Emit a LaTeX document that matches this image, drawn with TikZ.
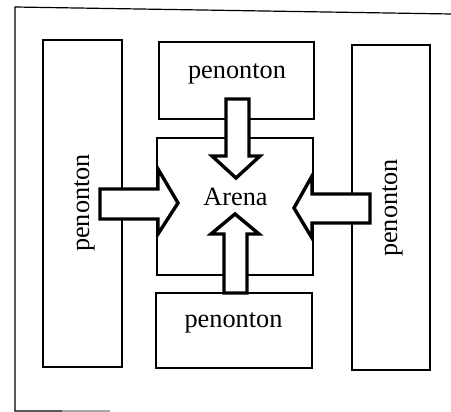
\documentclass[tikz,border=0pt]{standalone}
\usepackage{fontspec}
\setmainfont{Liberation Serif}
\begin{document}
\begin{tikzpicture}[x=1pt,y=-1pt,
  box/.style={draw,line width=1.1pt,inner sep=0pt,outer sep=0pt},
  lbl/.style={font=\fontsize{26.3}{30}\selectfont,inner sep=0pt,anchor=base},
  blockarrow/.style={draw,fill=white,line width=3.4pt,line join=miter,miter limit=10},
  frameline/.style={line width=1.2pt}]
\useasboundingbox (0,0) rectangle (451,412);

% outer frame
\coordinate (fTR) at (451,14);
\coordinate (fTL) at (15,7);
\coordinate (fBL) at (15,411);
\coordinate (fB1) at (62,411);
\coordinate (fB2) at (110,411);
\draw[frameline] (fTR) -- (fTL) -- (fBL) -- (fB1);
\draw[frameline,black!35] (fB1) -- (fB2);

% seating blocks and the arena
\node[box,minimum width=79pt,minimum height=327pt] (westStand) at (82.5,203.5) {};
\node[box,minimum width=78pt,minimum height=325pt] (eastStand) at (391,207.5) {};
\node[box,minimum width=155pt,minimum height=77pt] (northStand) at (236.5,80.5) {};
\node[box,minimum width=156pt,minimum height=75pt] (southStand) at (234,330.5) {};
\node[box,minimum width=156pt,minimum height=137pt] (arena) at (235,206.5) {};

% block arrows pointing into the arena
\draw[blockarrow] (226,99) -- (249,99) -- (249,156) -- (260,156) -- (236,178) -- (212,156) -- (226,156) -- cycle;
\draw[blockarrow] (224,293) -- (247,293) -- (247,234) -- (259,234) -- (235,214) -- (211,234) -- (224,234) -- cycle;
\draw[blockarrow] (100,189) -- (158,189) -- (158,169) -- (178,203) -- (158,234) -- (158,219) -- (100,219) -- cycle;
\draw[blockarrow] (370,194) -- (312,194) -- (312,176) -- (294,208) -- (312,238) -- (312,223) -- (370,223) -- cycle;

% labels
\node[lbl] (northLbl) at (237,79) {penonton};
\node[lbl] (southLbl) at (233.5,328) {penonton};
\node[lbl] (arenaLbl) at (235.5,206) {Arena};
\node[lbl,rotate=90] (westLbl) at (89,203) {penonton};
\node[lbl,rotate=90] (eastLbl) at (397,208) {penonton};
\end{tikzpicture}
\end{document}
